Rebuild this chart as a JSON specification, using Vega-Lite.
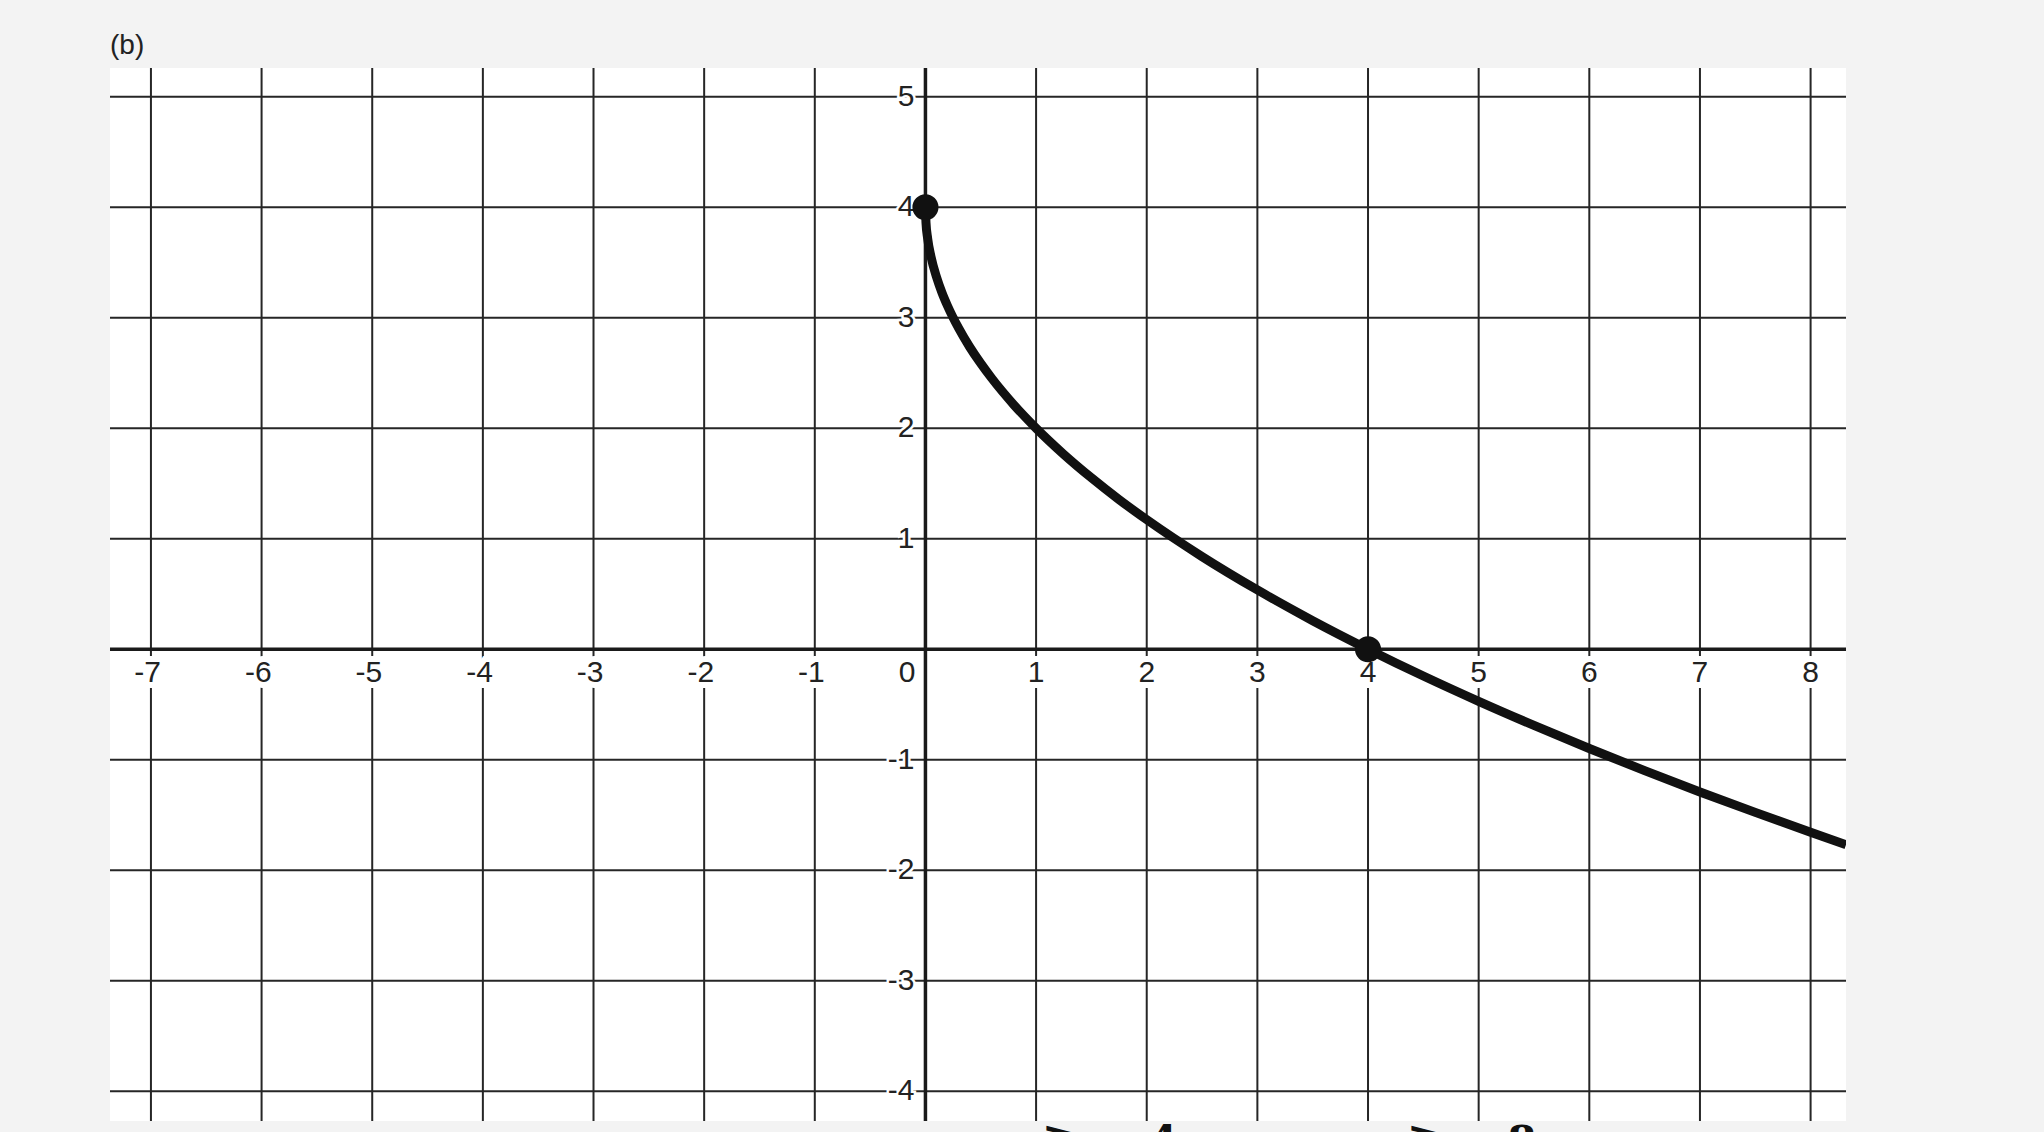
{
  "$schema": "https://vega.github.io/schema/vega-lite/v6.json",
  "autosize": {"type": "none"},
  "padding": {"left": 110, "top": 68, "right": 198, "bottom": 11},
  "width": 1736,
  "height": 1053,
  "background": "#f3f3f3",
  "view": {"fill": "white", "stroke": null},
  "title": {"text": "(b)", "anchor": "start", "frame": "group", "fontSize": 28, "font": "Liberation Sans", "fontWeight": "normal", "color": "#222", "offset": 6},
  "datasets": {
    "xgrid": [{"v": -7}, {"v": -6}, {"v": -5}, {"v": -4}, {"v": -3}, {"v": -2}, {"v": -1}, {"v": 0}, {"v": 1}, {"v": 2}, {"v": 3}, {"v": 4}, {"v": 5}, {"v": 6}, {"v": 7}, {"v": 8}],
    "ygrid": [{"v": -4}, {"v": -3}, {"v": -2}, {"v": -1}, {"v": 0}, {"v": 1}, {"v": 2}, {"v": 3}, {"v": 4}, {"v": 5}],
    "curve": [
      {"x": 0, "y": 4}, {"x": 0.005, "y": 3.859}, {"x": 0.02, "y": 3.717}, {"x": 0.05, "y": 3.553},
      {"x": 0.1, "y": 3.368}, {"x": 0.15, "y": 3.225}, {"x": 0.2, "y": 3.106}, {"x": 0.3, "y": 2.905},
      {"x": 0.4, "y": 2.735}, {"x": 0.5, "y": 2.586}, {"x": 0.6, "y": 2.451}, {"x": 0.8, "y": 2.211},
      {"x": 1, "y": 2}, {"x": 1.25, "y": 1.764}, {"x": 1.5, "y": 1.551}, {"x": 1.75, "y": 1.354},
      {"x": 2, "y": 1.172}, {"x": 2.5, "y": 0.838}, {"x": 3, "y": 0.536}, {"x": 3.5, "y": 0.258},
      {"x": 4, "y": 0}, {"x": 4.5, "y": -0.243}, {"x": 5, "y": -0.472}, {"x": 5.5, "y": -0.69},
      {"x": 6, "y": -0.899}, {"x": 6.5, "y": -1.099}, {"x": 7, "y": -1.292}, {"x": 7.5, "y": -1.477},
      {"x": 8, "y": -1.657}, {"x": 8.32, "y": -1.769}
    ],
    "dots": [{"x": 0, "y": 4}, {"x": 4, "y": 0}],
    "notes": [{"x": 1.21, "y": -4.235, "t": "≥"}, {"x": 2.15, "y": -4.29, "t": "4"}, {"x": 4.51, "y": -4.235, "t": "≥"}, {"x": 5.39, "y": -4.29, "t": "8"}]
  },
  "layer": [
    {
      "data": {"name": "xgrid"},
      "mark": {"type": "rule", "color": "#262626", "strokeWidth": 2},
      "encoding": {"x": {"field": "v", "type": "quantitative", "scale": {"domain": [-7.37, 8.32], "nice": false, "zero": false}, "axis": null}}
    },
    {
      "data": {"name": "ygrid"},
      "mark": {"type": "rule", "color": "#262626", "strokeWidth": 2},
      "encoding": {"y": {"field": "v", "type": "quantitative", "scale": {"domain": [-4.27, 5.26], "nice": false, "zero": false}, "axis": null}}
    },
    {
      "data": {"name": "xgrid"},
      "transform": [{"filter": "datum.v == 0"}],
      "mark": {"type": "rule", "color": "#1a1a1a", "strokeWidth": 3.5},
      "encoding": {"x": {"field": "v", "type": "quantitative"}}
    },
    {
      "data": {"name": "ygrid"},
      "transform": [{"filter": "datum.v == 0"}],
      "mark": {"type": "rule", "color": "#1a1a1a", "strokeWidth": 3.5},
      "encoding": {"y": {"field": "v", "type": "quantitative"}}
    },
    {
      "data": {"name": "xgrid"},
      "transform": [{"filter": "datum.v < 0"}],
      "mark": {"type": "text", "align": "right", "baseline": "middle", "dx": 10, "dy": 24, "fontSize": 30, "font": "Liberation Sans", "stroke": "white", "strokeWidth": 12, "fill": "white"},
      "encoding": {"x": {"field": "v", "type": "quantitative"}, "y": {"datum": 0, "type": "quantitative"}, "text": {"field": "v", "type": "nominal"}}
    },
    {
      "data": {"name": "xgrid"},
      "transform": [{"filter": "datum.v > 0"}],
      "mark": {"type": "text", "align": "center", "baseline": "middle", "dy": 24, "fontSize": 30, "font": "Liberation Sans", "stroke": "white", "strokeWidth": 12, "fill": "white"},
      "encoding": {"x": {"field": "v", "type": "quantitative"}, "y": {"datum": 0, "type": "quantitative"}, "text": {"field": "v", "type": "nominal"}}
    },
    {
      "data": {"name": "xgrid"},
      "transform": [{"filter": "datum.v < 0"}],
      "mark": {"type": "text", "align": "right", "baseline": "middle", "dx": 10, "dy": 24, "fontSize": 30, "font": "Liberation Sans", "color": "#222"},
      "encoding": {"x": {"field": "v", "type": "quantitative"}, "y": {"datum": 0, "type": "quantitative"}, "text": {"field": "v", "type": "nominal"}}
    },
    {
      "data": {"name": "xgrid"},
      "transform": [{"filter": "datum.v > 0"}],
      "mark": {"type": "text", "align": "center", "baseline": "middle", "dy": 24, "fontSize": 30, "font": "Liberation Sans", "color": "#222"},
      "encoding": {"x": {"field": "v", "type": "quantitative"}, "y": {"datum": 0, "type": "quantitative"}, "text": {"field": "v", "type": "nominal"}}
    },
    {
      "data": {"name": "xgrid"},
      "transform": [{"filter": "datum.v == 0"}],
      "mark": {"type": "text", "align": "right", "baseline": "middle", "dx": -10, "dy": 24, "fontSize": 30, "font": "Liberation Sans", "color": "#222"},
      "encoding": {"x": {"field": "v", "type": "quantitative"}, "y": {"datum": 0, "type": "quantitative"}, "text": {"field": "v", "type": "nominal"}}
    },
    {
      "data": {"name": "ygrid"},
      "transform": [{"filter": "datum.v != 0"}],
      "mark": {"type": "text", "align": "right", "baseline": "middle", "dx": -11, "fontSize": 30, "font": "Liberation Sans", "stroke": "white", "strokeWidth": 5, "fill": "white"},
      "encoding": {"x": {"datum": 0, "type": "quantitative"}, "y": {"field": "v", "type": "quantitative"}, "text": {"field": "v", "type": "nominal"}}
    },
    {
      "data": {"name": "ygrid"},
      "transform": [{"filter": "datum.v != 0"}],
      "mark": {"type": "text", "align": "right", "baseline": "middle", "dx": -11, "fontSize": 30, "font": "Liberation Sans", "color": "#222"},
      "encoding": {"x": {"datum": 0, "type": "quantitative"}, "y": {"field": "v", "type": "quantitative"}, "text": {"field": "v", "type": "nominal"}}
    },
    {
      "data": {"name": "curve"},
      "mark": {"type": "line", "color": "#111", "strokeWidth": 9, "clip": true, "interpolate": "monotone"},
      "encoding": {"x": {"field": "x", "type": "quantitative"}, "y": {"field": "y", "type": "quantitative"}, "order": {"field": "x"}}
    },
    {
      "data": {"name": "dots"},
      "mark": {"type": "circle", "color": "#111", "opacity": 1, "size": 680},
      "encoding": {"x": {"field": "x", "type": "quantitative"}, "y": {"field": "y", "type": "quantitative"}}
    },
    {
      "data": {"name": "notes"},
      "mark": {"type": "text", "align": "center", "baseline": "top", "fontSize": 42, "font": "DejaVu Serif", "fontWeight": "bold", "color": "#111"},
      "encoding": {"x": {"field": "x", "type": "quantitative"}, "y": {"field": "y", "type": "quantitative"}, "text": {"field": "t"}}
    }
  ]
}
